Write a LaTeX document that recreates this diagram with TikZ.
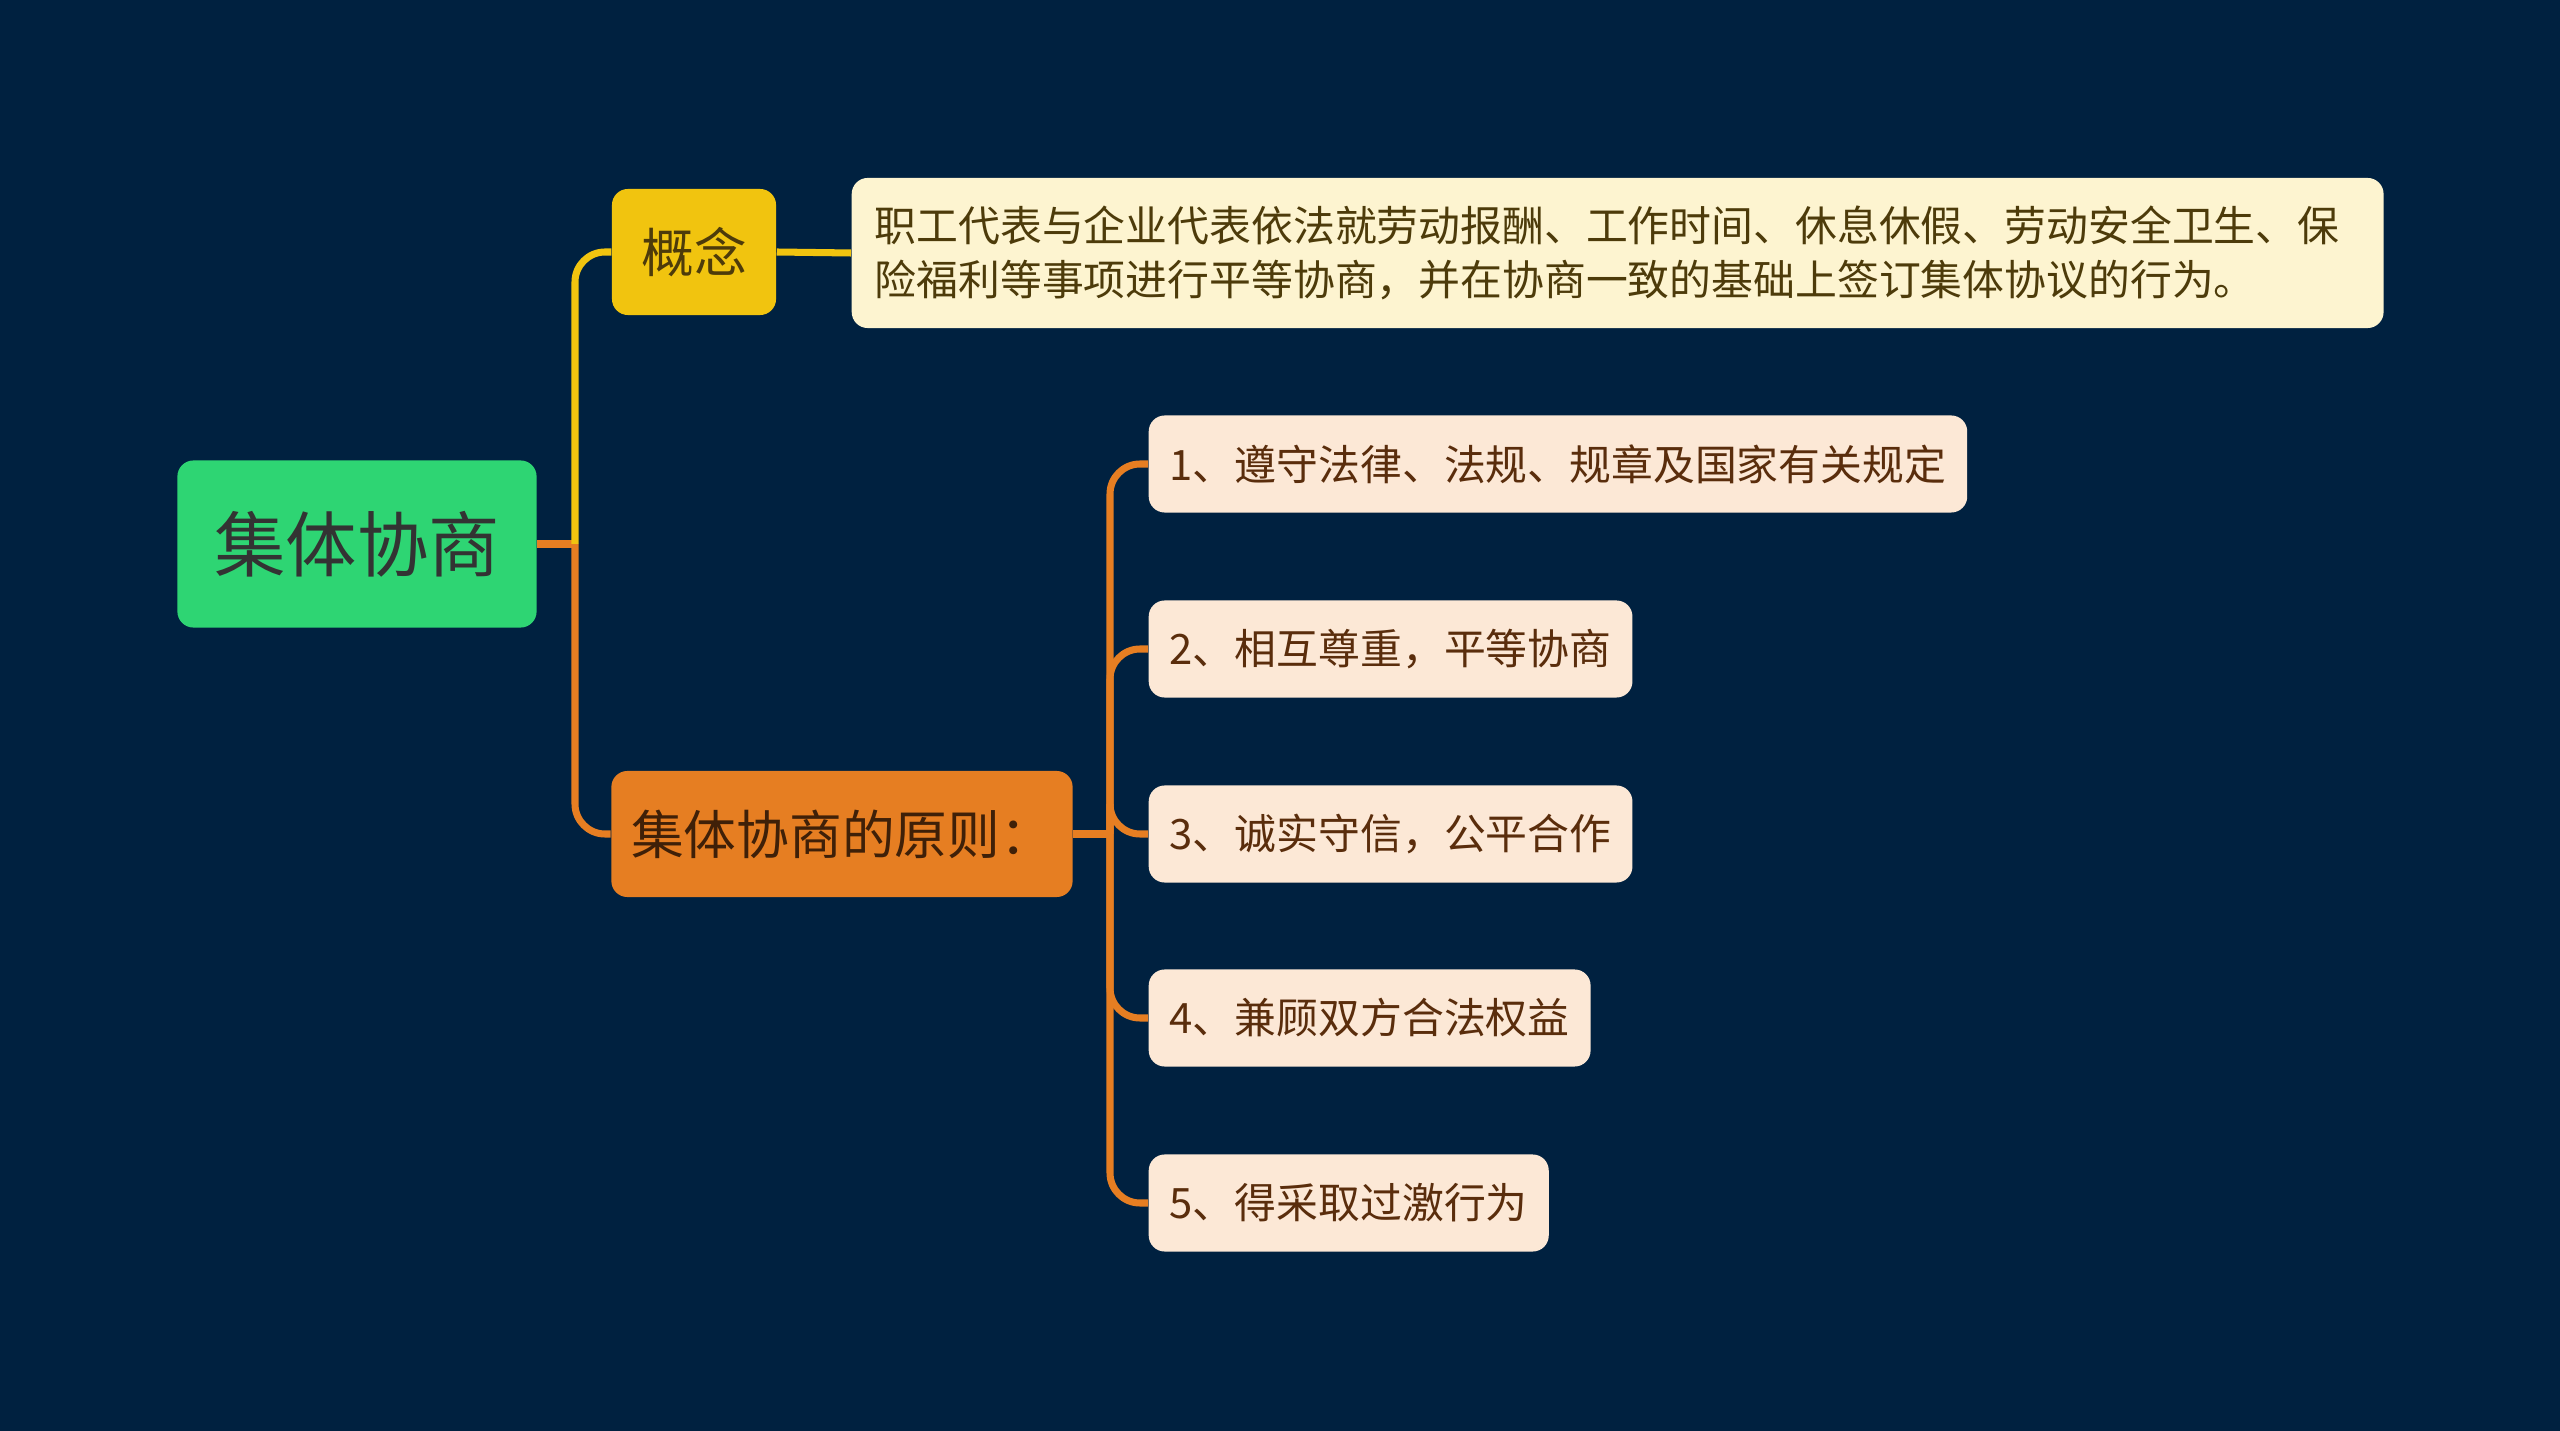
\documentclass[tikz,border=0pt]{standalone}
\usepackage{fontspec}
\setmainfont{Noto Sans CJK SC}
\usetikzlibrary{positioning}
\definecolor{bgnavy}{RGB}{0,33,64}
\definecolor{rootgreen}{RGB}{46,213,115}
\definecolor{ideayellow}{RGB}{241,196,15}
\definecolor{ideacream}{RGB}{253,244,208}
\definecolor{ruleorange}{RGB}{230,126,34}
\definecolor{rulepeach}{RGB}{252,232,214}
\definecolor{inkdark}{RGB}{51,51,51}
\definecolor{inkolive}{RGB}{77,59,10}
\definecolor{inkbrown}{RGB}{90,45,12}
\tikzset{
    box/.style={rounded corners=0.16cm, inner sep=0pt, align=center},
    rootbox/.style={box, fill=rootgreen, text=inkdark, font=\fontsize{20.3}{24}\selectfont,
        minimum width=3.59cm, minimum height=1.67cm},
    topicbox/.style={box, text=inkolive, font=\fontsize{15}{18}\selectfont, minimum height=1.26cm},
    notebox/.style={box, fill=ideacream, text=inkolive, align=left, anchor=west,
        inner xsep=0.23cm, text width=14.85cm,
        font=\fontsize{11.9}{15.3}\selectfont, minimum height=1.5cm},
    leafbox/.style={box, fill=rulepeach, text=inkbrown, anchor=west, inner xsep=0.21cm,
        font=\fontsize{11.9}{14}\selectfont, minimum height=0.97cm},
    link/.style={line width=2pt},
}

\begin{document}
\begin{tikzpicture}[x=0.01cm, y=-0.01cm]
    \fill[bgnavy] (0,0) rectangle (2560,1431);
    \useasboundingbox (0,0) rectangle (2560,1431);

    \node[rootbox] (root) at (357,544) {集体协商};
    \node[topicbox, fill=ideayellow, minimum width=1.64cm] (idea) at (694,252) {概念};
    \node[notebox] (def) at (851,253)
        {职工代表与企业代表依法就劳动报酬、工作时间、休息休假、劳动安全卫生、保\\
         险福利等事项进行平等协商，并在协商一致的基础上签订集体协议的行为。};
    \node[topicbox, fill=ruleorange, text=inkbrown!70!black, minimum width=4.61cm] (rules) at (842,834) {集体协商的原则：};

    \node[leafbox] (r1) at (1148,464) {1、遵守法律、法规、规章及国家有关规定};
    \node[leafbox] (r2) at (1148,649) {2、相互尊重，平等协商};
    \node[leafbox] (r3) at (1148,834) {3、诚实守信，公平合作};
    \node[leafbox] (r4) at (1148,1018) {4、兼顾双方合法权益};
    \node[leafbox] (r5) at (1148,1203) {5、得采取过激行为};

    \coordinate (j1) at (575,544);
    \coordinate (j2) at (1110,834);

    % branches from the root
    \draw[link, ruleorange] (root.east) -- (j1);
    \draw[link, ruleorange, rounded corners=0.3cm] (j1) |- (rules.west);
    \draw[link, ideayellow, rounded corners=0.3cm] (j1) |- (idea.west);
    \draw[link, ideayellow] (idea.east) -- (def.west);

    % principles
    \draw[link, ruleorange] (rules.east) -- (j2);
    \foreach \i in {1,...,5}
        \draw[link, ruleorange, rounded corners=0.3cm] (j2) |- (r\i.west);
\end{tikzpicture}
\end{document}
